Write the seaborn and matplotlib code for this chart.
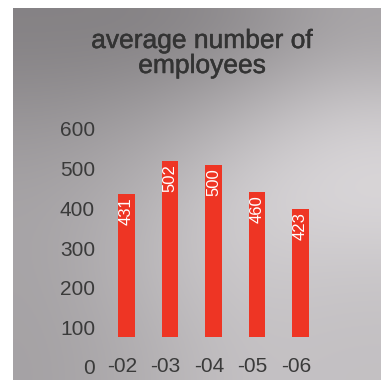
import numpy as np
import pandas as pd
import matplotlib
matplotlib.use("Agg")
import matplotlib.pyplot as plt
import matplotlib.transforms as mtransforms
import matplotlib.patheffects as pe
import seaborn as sns

# ---- data ----
years = ["-02", "-03", "-04", "-05", "-06"]
bar_heights = [436, 519, 509, 442, 398]      # bar tops
value_labels = ["431", "502", "500", "460", "423"]  # printed numbers
baseline = 75                                # bars start here
y_ticks = [0, 100, 200, 300, 400, 500, 600]
title_lines = ["average number of", "employees"]

sns.set_theme(style="white")
plt.rcParams["font.family"] = ["Liberation Sans", "DejaVu Sans"]

W = H = 381
fig = plt.figure(figsize=(W / 100, H / 100), dpi=100, facecolor="white")

# ---- gradient background panel ----
bg = fig.add_axes([13 / W, 1 / H, 368 / W, 372 / H])
grid = np.array([
    [0x84, 0x84, 0x90, 0xa6],
    [0x98, 0xa2, 0xb8, 0xd0],
    [0xa6, 0xb6, 0xd2, 0xdc],
    [0xa6, 0xbc, 0xcc, 0xc8],
    [0xa4, 0xb2, 0xc4, 0xc2],
], dtype=float) / 255.0
rgb = np.stack([grid + 0.004, grid - 0.008, grid + 0.002], axis=-1).clip(0, 1)
bg.imshow(rgb, aspect="auto", interpolation="bicubic", extent=[0, 1, 0, 1])
bg.set_axis_off()

# ---- main axes ----
x_left, x_right = 104.75, 322.25
y_top, y_bot = 129, 367
ax = fig.add_axes([x_left / W, 1 - y_bot / H, (x_right - x_left) / W, (y_bot - y_top) / H])
ax.set_facecolor("none")

df = pd.DataFrame({"year": years, "value": bar_heights})
sns.barplot(data=df, x="year", y="value", color="#ee3524", saturation=1,
            width=0.39, ax=ax, linewidth=0)
for p in ax.patches:
    top = p.get_y() + p.get_height()
    p.set_y(baseline)
    p.set_height(top - baseline)

ax.set_xlim(-0.5, len(years) - 0.5)
ax.set_ylim(0, 600)
ax.set_yticks(y_ticks)
ax.set_yticklabels([str(t) for t in y_ticks])
ax.set_xlabel("")
ax.set_ylabel("")
for s in ax.spines.values():
    s.set_visible(False)

ax.tick_params(axis="y", length=0, pad=7, labelsize=15, labelcolor="#3a3a3a")
ax.tick_params(axis="x", length=0, pad=0, labelsize=15, labelcolor="#3a3a3a")
for lab in ax.get_xticklabels():
    lab.set_verticalalignment("center")
    lab.set_transform(lab.get_transform() + mtransforms.ScaledTranslation(-0.045, 0, fig.dpi_scale_trans))

# value labels inside bars
for i, (h, lab) in enumerate(zip(bar_heights, value_labels)):
    ax.annotate(lab, xy=(i, h), xytext=(0, -2.5), textcoords="offset points",
                rotation=90, ha="center", va="top", color="white", fontsize=12)

# ---- title ----
stroke = [pe.withStroke(linewidth=0.35, foreground="#333333")]
fig.text(202 / W, 1 - 48 / H, title_lines[0], ha="center", va="baseline",
         fontsize=19, color="#333333", path_effects=stroke)
fig.text(202 / W, 1 - 73 / H, title_lines[1], ha="center", va="baseline",
         fontsize=19, color="#333333", path_effects=stroke)

fig.savefig("out.png", dpi=100, facecolor="white")
